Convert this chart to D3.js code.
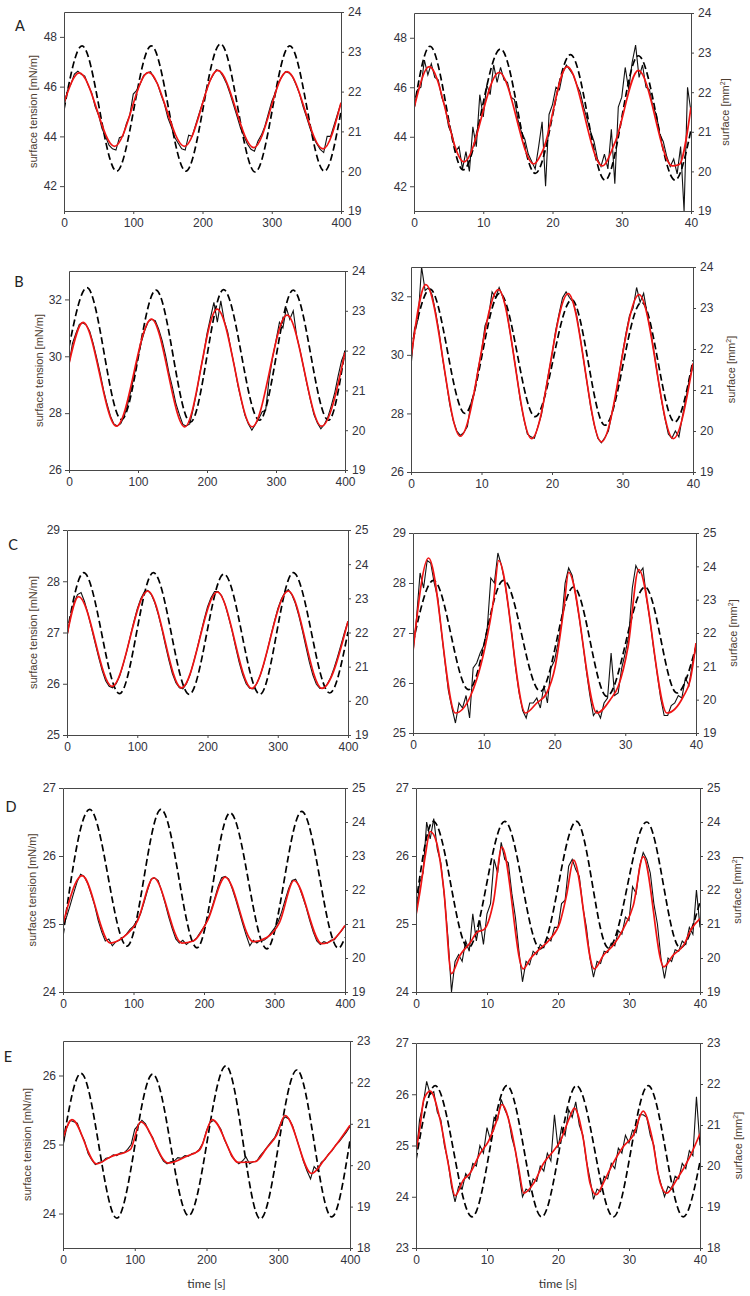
<!DOCTYPE html>
<html>
<head>
<meta charset="utf-8">
<script src="https://cdn.jsdelivr.net/npm/d3@7"></script>
<style>
  body { margin: 0; background: #fff; }
  svg { display: block; }
  .axis .tick text { font-family: "Liberation Sans", Arial, sans-serif; font-size: 12px; fill: #33333c; }
  .axis .tick line, .axis .domain, .frame { stroke: #474747; stroke-width: 1; }
  .title { font-family: "Liberation Sans", Arial, sans-serif; font-size: 11px; fill: #4d3d31; }
  .letter { font-family: Lato, "Open Sans", sans-serif; font-size: 14.5px; fill: #222; }
  .xtitle { font-family: Lato, "Open Sans", sans-serif; font-size: 12px; fill: #333; }
</style>
</head>
<body>
<div id="chart"></div>
<script>
// time grids of the measured traces
var longTimes = d3.range(0, 401, 5);
var shortTimes = d3.range(0, 81).map(function(i) { return i / 2; });
var longTicks = [0, 100, 200, 300, 400];
var shortTicks = [0, 10, 20, 30, 40];

// tick labels
var aTensionTicks = [42, 44, 46, 48];
var bTensionTicks = [26, 28, 30, 32];
var cTensionTicks = [25, 26, 27, 28, 29];
var dTensionTicks = [24, 25, 26, 27];
var eLongTensionTicks = [24, 25, 26];
var eShortTensionTicks = [23, 24, 25, 26, 27];
var surfaceTicksAB = [19, 20, 21, 22, 23, 24];
var surfaceTicksCD = [19, 20, 21, 22, 23, 24, 25];
var surfaceTicksE = [18, 19, 20, 21, 22, 23];

// ---- A ----
var aLongArea = [[0,21.55],[26,23.15],[76,20.0],[126,23.15],[176,20.0],[226,23.2],[276,19.98],[326,23.15],[376,20.0],[400,21.5]];
var aLongFit = [[0,45.35],[22,46.55],[73,43.6],[122,46.57],[174,43.6],[222,46.65],[274,43.55],[322,46.6],[374,43.5],[400,45.35]];
var aLongRaw = [45.2,45.85,46.1,46.5,46.62,46.5,46.42,46.05,45.75,45.2,
  44.85,44.3,44.0,43.65,43.5,43.45,43.95,44.0,44.5,44.85,
  45.7,45.85,46.1,46.45,46.55,46.6,46.35,46.12,45.68,45.3,
  44.75,44.38,43.95,43.72,43.5,43.45,44.05,44.0,44.45,44.9,
  45.35,45.8,46.2,46.45,46.68,46.62,46.4,46.1,45.7,45.25,
  44.8,44.32,44.0,43.68,43.48,43.4,43.8,44.05,44.4,44.9,
  45.4,45.75,46.18,46.42,46.6,46.55,46.4,46.08,45.72,45.22,
  44.8,44.35,43.95,43.7,43.48,43.35,44.0,44.0,44.45,44.9,45.35];

var aShortArea = [[0,21.6],[2.3,23.16],[7.1,20.04],[12.5,23.09],[17.5,19.95],[22.6,22.95],[27.6,19.78],[32.4,22.92],[37.7,19.78],[40,21.05]];
var aShortFit = [[0,45.15],[2.2,46.83],[7.2,42.98],[12.3,46.6],[17.3,42.9],[18.6,43.45],[22.1,46.83],[27.2,42.82],[29.0,43.75],[32.4,46.68],[37.3,42.82],[38.3,42.88],[40,45.2]];
var aShortRaw = [45.1,45.9,46.0,47.1,46.5,46.95,46.4,46.3,45.6,45.2,
  44.4,44.1,43.4,43.6,42.7,43.4,42.6,44.4,43.6,45.7,
  44.8,46.1,45.7,46.9,46.2,46.8,46.3,46.2,45.6,45.5,
  44.7,44.2,43.9,43.3,43.0,42.7,43.6,44.6,42.0,44.9,
  45.3,46.0,45.9,46.6,46.9,46.7,46.5,46.1,45.8,45.2,
  44.7,44.2,43.8,43.1,42.8,43.3,42.7,44.3,42.1,45.2,
  45.6,46.8,45.9,47.0,47.7,46.4,46.9,46.0,45.9,45.2,
  44.9,44.1,43.8,43.2,42.8,43.1,42.5,43.6,41.0,46.0,45.0];

// ---- B ----
var bLongArea = [[0,22.09],[26,23.58],[76,20.27],[126,23.52],[176,20.2],[224,23.53],[276,20.25],[325,23.52],[376,20.25],[400,22.0]];
var bLongFit = [[0,29.74],[20.3,31.19],[68.7,27.54],[119.5,31.31],[167.8,27.52],[214.7,31.66],[265.5,27.52],[316,31.45],[366,27.54],[400,30.14]];
var bLongRaw = [29.7,30.45,30.8,31.12,31.18,31.1,30.88,30.45,29.95,29.42,
  28.82,28.33,27.9,27.62,27.55,27.63,27.9,28.3,28.82,29.4,
  29.98,30.52,30.92,31.22,31.3,31.25,30.95,30.55,30.02,29.4,
  28.9,28.33,27.95,27.6,27.55,27.62,28.15,28.75,29.45,30.05,
  30.8,31.35,31.9,31.2,31.95,31.25,30.85,30.2,29.62,28.95,
  28.42,27.92,27.62,27.4,27.6,27.8,28.05,28.1,29.2,29.95,
  30.55,31.2,31.0,31.7,31.3,31.6,30.7,30.2,29.6,29.0,
  28.45,27.95,27.65,27.45,27.6,27.85,28.25,28.7,29.3,29.85,30.15];

var bShortArea = [[0,21.98],[2.7,23.46],[7.65,20.43],[12.6,23.36],[17.6,20.35],[22.8,23.2],[27.5,20.14],[32.7,23.14],[37.4,20.22],[40,21.73]];
var bShortFit = [[0,29.89],[2.1,32.4],[7.0,27.22],[12.4,32.23],[17.1,27.14],[22.3,32.09],[27.0,27.03],[32.35,32.06],[37.2,27.14],[40,29.71]];
var bShortRaw = [29.6,30.9,31.2,33.0,32.2,32.3,32.05,31.45,30.75,29.85,
  29.1,28.3,27.75,27.4,27.25,27.35,27.55,28.35,28.7,29.5,
  30.1,31.0,31.3,32.15,31.95,32.3,32.0,31.6,30.85,30.1,
  29.3,28.45,27.82,27.3,27.2,27.15,27.55,27.95,28.65,29.35,
  30.0,30.8,31.4,31.95,32.15,31.95,31.8,31.35,30.6,29.8,
  29.0,28.2,27.6,27.15,27.0,27.18,27.4,28.0,28.55,29.3,
  30.05,30.75,31.35,31.6,32.3,31.8,32.1,31.4,30.8,30.05,
  29.25,28.5,27.85,27.3,27.15,27.4,27.2,27.9,28.5,29.2,29.6];

// ---- C ----
var cLongArea = [[0,21.97],[23.7,23.75],[74.8,20.21],[123,23.75],[174,20.19],[223.4,23.71],[274.6,20.19],[322,23.75],[374,20.23],[400,22.02]];
var cLongFit = [[0,26.95],[16.5,27.7],[64,25.95],[115,27.81],[163,25.92],[214,27.79],[263,25.91],[315,27.81],[363,25.91],[400,27.22]];
var cLongRaw = [26.92,27.32,27.58,27.74,27.78,27.6,27.36,27.08,26.8,26.52,
  26.26,26.06,25.95,25.92,26.0,26.15,26.38,26.63,26.92,27.2,
  27.46,27.66,27.79,27.82,27.74,27.58,27.35,27.07,26.76,26.46,
  26.2,26.02,25.92,25.9,26.0,26.17,26.41,26.67,26.96,27.24,
  27.5,27.68,27.8,27.8,27.72,27.55,27.3,27.03,26.72,26.42,
  26.18,26.0,25.91,25.9,26.0,26.16,26.38,26.64,26.93,27.2,
  27.46,27.65,27.78,27.84,27.74,27.57,27.33,27.04,26.73,26.42,
  26.17,25.99,25.91,25.91,25.98,26.11,26.3,26.52,26.76,27.0,27.22];

var cShortArea = [[0,21.7],[2.9,23.58],[7.86,20.3],[12.8,23.58],[18.0,20.25],[22.7,23.38],[27.4,20.1],[32.8,23.38],[37.3,20.2],[40,21.6]];
var cShortFit = [[0,26.63],[2.2,28.5],[6.0,25.4],[8.1,25.73],[9.0,26.07],[10.2,26.73],[11.4,27.67],[12.1,28.45],[15.9,25.4],[17.5,25.6],[18.9,25.8],[20.1,26.33],[21.3,27.47],[22.0,28.21],[26.0,25.4],[27.9,25.67],[29.0,25.93],[30.4,26.73],[31.9,28.27],[35.9,25.4],[38.2,25.73],[39.2,26.07],[40,26.8]];
var cShortRaw = [26.6,27.3,28.2,27.9,28.45,28.4,28.0,27.7,27.05,26.45,
  25.85,25.5,25.2,25.6,25.5,25.75,25.3,26.3,26.4,26.6,
  26.75,27.1,28.1,28.0,28.6,28.35,28.0,27.5,26.95,26.3,
  25.8,25.45,25.3,25.6,25.6,25.7,25.5,25.95,25.6,26.3,
  26.45,26.8,27.2,28.0,28.3,28.15,27.75,27.3,26.8,26.25,
  25.75,25.35,25.45,25.3,25.6,25.7,26.6,25.75,25.8,26.3,
  26.6,26.95,27.9,28.35,28.2,28.3,27.7,27.25,26.7,26.2,
  25.7,25.35,25.35,25.55,25.6,25.75,25.7,26.1,25.95,26.4,26.7];

// ---- D ----
var dLongArea = [[0,20.67],[37.8,24.37],[90.7,20.35],[139,24.37],[190,20.3],[237,24.27],[289,20.27],[338.6,24.31],[390.6,20.29],[400,20.6]];
var dLongFit = [[0,25.0],[27,25.71],[67,24.72],[86,24.81],[105,25.03],[128.5,25.68],[168.6,24.72],[185,24.75],[205,25.05],[230,25.69],[270,24.74],[289,24.8],[307,25.02],[327.8,25.64],[367,24.71],[383.5,24.77],[400,24.98]];
var dLongRaw = [24.95,25.1,25.27,25.45,25.62,25.73,25.7,25.6,25.44,25.27,
  25.05,24.88,24.75,24.78,24.68,24.74,24.76,24.8,24.85,24.92,
  24.97,25.05,25.15,25.32,25.5,25.66,25.68,25.64,25.48,25.3,
  25.1,24.93,24.78,24.72,24.76,24.7,24.74,24.75,24.8,24.88,
  24.96,25.06,25.2,25.37,25.55,25.68,25.7,25.66,25.52,25.36,
  25.18,25.0,24.83,24.68,24.76,24.72,24.76,24.76,24.8,24.87,
  24.94,25.03,25.17,25.35,25.52,25.64,25.66,25.55,25.4,25.24,
  25.05,24.88,24.75,24.7,24.74,24.72,24.76,24.77,24.84,24.9,24.97];

var dShortArea = [[0,21.6],[2.44,24.02],[7.37,20.3],[12.5,24.02],[17.5,20.27],[22.6,24.02],[27.1,20.3],[32.5,24.0],[37.2,20.3],[40,21.65]];
var dShortFit = [[0,25.13],[0.6,25.5],[1.3,26.0],[2.0,26.36],[2.9,26.2],[3.9,25.52],[5.0,24.27],[6.2,24.54],[7.6,24.72],[8.6,24.88],[9.6,24.92],[10.9,25.32],[12.1,26.13],[15.1,24.34],[16.1,24.49],[17.5,24.64],[18.9,24.78],[20.3,25.03],[21.2,25.42],[22.2,25.94],[25.1,24.34],[26.4,24.54],[27.8,24.69],[29.2,24.93],[30.6,25.27],[32.0,25.99],[34.9,24.37],[36.2,24.54],[37.7,24.69],[38.8,24.93],[40,25.08]];
var dShortRaw = [25.1,25.6,25.75,26.5,26.25,26.55,26.1,25.9,25.4,24.8,
  24.0,24.45,24.55,24.45,24.75,24.6,25.15,24.75,25.05,24.7,
  25.15,25.3,25.95,25.75,26.2,25.95,25.9,25.45,25.1,24.6,
  24.15,24.45,24.4,24.6,24.55,24.7,24.65,24.8,24.75,24.95,
  24.95,25.3,25.35,25.85,25.95,25.8,25.7,25.25,24.95,24.5,
  24.22,24.45,24.42,24.6,24.58,24.72,24.68,24.9,24.85,25.1,
  25.05,25.55,25.45,25.85,26.05,25.95,25.75,25.3,25.0,24.5,
  24.2,24.5,24.45,24.62,24.6,24.75,24.7,24.95,24.85,25.5,24.95];

// ---- E ----
var eLongArea = [[0,20.53],[25,22.22],[75,18.72],[125,22.2],[175,18.78],[227,22.4],[275,18.7],[326,22.3],[374.5,18.75],[400,20.6]];
var eLongFit = [[0,25.09],[12.5,25.36],[47,24.72],[66,24.82],[94,24.93],[108,25.33],[147,24.73],[172.6,24.83],[191,24.93],[208,25.36],[244.5,24.74],[267.7,24.75],[284,24.95],[298,25.14],[309.5,25.42],[346.6,24.58],[365,24.79],[381,25.0],[400,25.28]];
var eLongRaw = [24.98,25.24,25.35,25.33,25.31,25.16,25.05,24.87,24.78,24.71,
  24.74,24.75,24.8,24.81,24.85,24.84,24.88,24.88,24.93,25.0,
  25.22,25.28,25.35,25.3,25.18,25.1,24.96,24.85,24.76,24.72,
  24.75,24.76,24.81,24.8,24.84,24.83,24.87,24.88,24.93,25.02,
  25.2,25.32,25.35,25.3,25.22,25.07,24.96,24.83,24.77,24.72,
  24.76,24.82,24.72,24.75,24.76,24.84,24.9,24.97,25.04,25.1,
  25.22,25.35,25.4,25.37,25.27,25.1,24.94,24.76,24.62,24.5,
  24.68,24.62,24.74,24.78,24.86,24.91,24.99,25.04,25.11,25.18,25.26];

var eShortArea = [[0,20.15],[2.7,21.96],[7.9,18.76],[12.8,21.96],[17.7,18.76],[22.6,21.96],[27.8,18.76],[32.7,21.96],[37.65,18.76],[40,20.1]];
var eShortFit = [[0,24.89],[0.6,25.4],[1.1,25.9],[2.0,26.06],[3.4,25.5],[4.6,24.6],[5.5,24.02],[6.7,24.33],[7.6,24.46],[9.05,24.85],[10.2,25.08],[11.4,25.5],[12.1,25.8],[13.3,25.37],[14.4,24.6],[15.2,24.07],[16.6,24.27],[18,24.66],[19.1,24.85],[20.3,25.08],[21.7,25.57],[22.3,25.73],[23.6,25.1],[24.5,24.27],[25.4,24.04],[26.4,24.27],[27.3,24.53],[29.2,24.98],[30.6,25.2],[32.0,25.67],[33.2,25.18],[34.4,24.27],[35.3,24.07],[36.7,24.33],[38.6,24.79],[40,25.23]];
var eShortRaw = [24.75,25.5,25.8,26.25,26.0,26.05,25.65,25.5,25.0,24.7,
  24.2,23.9,24.2,24.15,24.45,24.35,24.65,24.6,25.0,24.85,
  25.35,25.1,25.55,25.5,25.9,25.7,25.55,25.15,24.9,24.45,
  24.0,24.15,24.1,24.35,24.3,24.6,24.5,24.85,24.7,25.6,
  24.95,25.35,25.2,25.7,25.55,25.85,25.4,25.2,24.7,24.35,
  23.95,24.15,24.1,24.4,24.35,24.65,24.55,24.95,24.85,25.2,
  25.05,25.3,25.25,25.6,25.6,25.55,25.2,25.0,24.5,24.25,
  24.0,24.2,24.15,24.4,24.35,24.65,24.55,24.9,24.8,25.95,25.0];

// plot boxes [left, top, right, bottom] in page pixels
var boxes = [
  [64, 12, 341, 211], [414, 13, 691, 211],
  [69, 271, 345, 470], [411, 267, 693, 472],
  [67, 530, 348, 735], [413, 533, 696, 733],
  [63, 788, 345, 992], [416, 788, 700, 992],
  [63, 1041, 350, 1248], [416, 1043, 700, 1248]
];
var letters = [["A", 20, 26], ["B", 19, 282], ["C", 13, 545], ["D", 11, 807], ["E", 8, 1057]];
var leftTitleX = [33, 39, 33, 32, 27];
var rightTitleX = [725, 731, 733, 737, 738];

function panel(i, long, tension, tensionTicks, surface, surfaceTicks, area, fit, raw) {
  return { box: boxes[i], long: long, tension: tension, tensionTicks: tensionTicks,
           surface: surface, surfaceTicks: surfaceTicks, area: area, fit: fit, raw: raw };
}

var panels = [
  panel(0, true, [41, 49], aTensionTicks, [19, 24], surfaceTicksAB, aLongArea, aLongFit, aLongRaw),
  panel(1, false, [41, 49], aTensionTicks, [19, 24], surfaceTicksAB, aShortArea, aShortFit, aShortRaw),
  panel(2, true, [26, 33], bTensionTicks, [19, 24], surfaceTicksAB, bLongArea, bLongFit, bLongRaw),
  panel(3, false, [26, 33], bTensionTicks, [19, 24], surfaceTicksAB, bShortArea, bShortFit, bShortRaw),
  panel(4, true, [25, 29], cTensionTicks, [19, 25], surfaceTicksCD, cLongArea, cLongFit, cLongRaw),
  panel(5, false, [25, 29], cTensionTicks, [19, 25], surfaceTicksCD, cShortArea, cShortFit, cShortRaw),
  panel(6, true, [24, 27], dTensionTicks, [19, 25], surfaceTicksCD, dLongArea, dLongFit, dLongRaw),
  panel(7, false, [24, 27], dTensionTicks, [19, 25], surfaceTicksCD, dShortArea, dShortFit, dShortRaw),
  panel(8, true, [23.5, 26.5], eLongTensionTicks, [18, 23], surfaceTicksE, eLongArea, eLongFit, eLongRaw),
  panel(9, false, [23, 27], eShortTensionTicks, [18, 23], surfaceTicksE, eShortArea, eShortFit, eShortRaw)
];

var svg = d3.select("#chart").append("svg").attr("width", 750).attr("height", 1296);
var intFormat = d3.format("d");

panels.forEach(function(p, i) {
  var b = p.box;
  var times = p.long ? longTimes : shortTimes;
  var x = d3.scaleLinear().domain(p.long ? [0, 400] : [0, 40]).range([b[0], b[2]]);
  var yT = d3.scaleLinear().domain(p.tension).range([b[3], b[1]]);
  var yS = d3.scaleLinear().domain(p.surface).range([b[3], b[1]]);
  var g = svg.append("g");

  g.append("clipPath").attr("id", "clip" + i).append("rect")
    .attr("x", b[0]).attr("y", b[1]).attr("width", b[2] - b[0] + 1).attr("height", b[3] - b[1] + 1);
  var plot = g.append("g").attr("clip-path", "url(#clip" + i + ")");

  // measured surface tension (noisy)
  plot.append("path")
    .attr("d", d3.line().x(function(d, j) { return x(times[j]); }).y(function(d) { return yT(d); })(p.raw))
    .attr("fill", "none").attr("stroke", "#111").attr("stroke-width", 1.1);
  // surface area (dashed, right axis)
  plot.append("path")
    .attr("d", d3.line().x(function(d) { return x(d[0]); }).y(function(d) { return yS(d[1]); }).curve(d3.curveMonotoneX)(p.area))
    .attr("fill", "none").attr("stroke", "#000").attr("stroke-width", 1.7).attr("stroke-dasharray", "7,3.5");
  // fitted surface tension (red)
  plot.append("path")
    .attr("d", d3.line().x(function(d) { return x(d[0]); }).y(function(d) { return yT(d[1]); }).curve(d3.curveMonotoneX)(p.fit))
    .attr("fill", "none").attr("stroke", "#f01414").attr("stroke-width", 1.7);

  // frame and axes
  g.append("line").attr("class", "frame")
    .attr("x1", b[0] + 0.5).attr("x2", b[2] + 0.5).attr("y1", b[1] + 0.5).attr("y2", b[1] + 0.5);
  g.append("g").attr("class", "axis").attr("transform", "translate(" + b[0] + ",0)")
    .call(d3.axisLeft(yT).tickValues(p.tensionTicks).tickFormat(intFormat)
      .tickSize(4).tickSizeOuter(0).tickPadding(3));
  g.append("g").attr("class", "axis").attr("transform", "translate(" + b[2] + ",0)")
    .call(d3.axisRight(yS).tickValues(p.surfaceTicks).tickFormat(intFormat)
      .tickSize(3).tickSizeOuter(0).tickPadding(4));
  g.append("g").attr("class", "axis").attr("transform", "translate(0," + b[3] + ")")
    .call(d3.axisBottom(x).tickValues(p.long ? longTicks : shortTicks).tickFormat(intFormat)
      .tickSize(3).tickSizeOuter(0).tickPadding(4));

  var midY = (b[1] + b[3]) / 2;
  var row = Math.floor(i / 2);
  if (p.long) {
    svg.append("text").attr("class", "title")
      .attr("transform", "translate(" + leftTitleX[row] + "," + midY + ") rotate(-90)")
      .attr("text-anchor", "middle").attr("dy", "0.35em")
      .text("surface tension [mN/m]");
  } else {
    var t = svg.append("text").attr("class", "title")
      .attr("transform", "translate(" + rightTitleX[row] + "," + midY + ") rotate(-90)")
      .attr("text-anchor", "middle").attr("dy", "0.35em");
    t.append("tspan").text("surface [mm");
    t.append("tspan").attr("dy", "-4").attr("font-size", "7px").text("2");
    t.append("tspan").attr("dy", "4").text("]");
  }
  if (row === 4) {
    svg.append("text").attr("class", "xtitle")
      .attr("x", (b[0] + b[2]) / 2).attr("y", 1288)
      .attr("text-anchor", "middle").text("time [s]");
  }
});

letters.forEach(function(l) {
  svg.append("text").attr("class", "letter")
    .attr("x", l[1]).attr("y", l[2]).attr("dy", "0.36em")
    .attr("text-anchor", "middle").text(l[0]);
});
</script>
</body>
</html>
